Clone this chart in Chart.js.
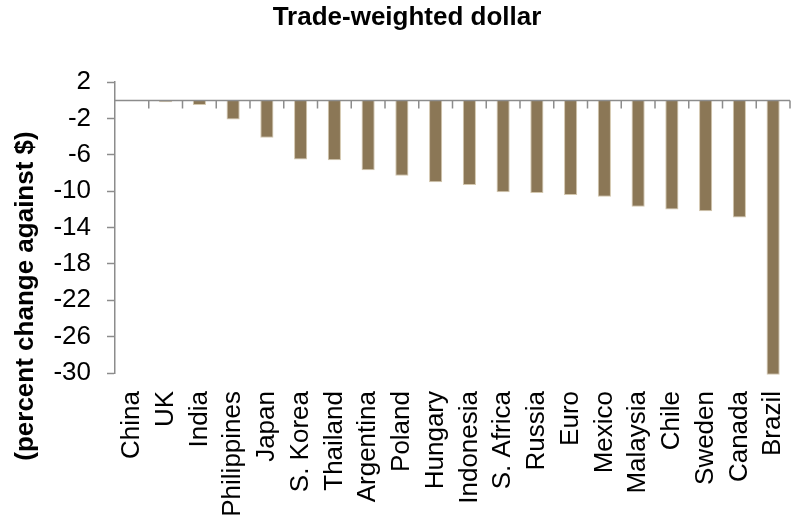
<!DOCTYPE html>
<html>
<head>
<meta charset="utf-8">
<script src="https://cdn.jsdelivr.net/npm/chart.js@4/dist/chart.umd.min.js"></script>
<style>
  html, body { margin: 0; padding: 0; background: #fff; }
  #wrap { width: 792px; height: 520px; position: relative; }
</style>
</head>
<body>
<div id="wrap"><canvas id="c" width="792" height="520"></canvas></div>
<script>
const categories = ["China","UK","India","Philippines","Japan","S. Korea","Thailand","Argentina","Poland","Hungary","Indonesia","S. Africa","Russia","Euro","Mexico","Malaysia","Chile","Sweden","Canada","Brazil"];
const changeAgainstDollar = [0, -0.2, -0.5, -2.1, -4.1, -6.5, -6.6, -7.7, -8.3, -9.0, -9.3, -10.1, -10.2, -10.4, -10.6, -11.7, -12.0, -12.2, -12.9, -30.2];
const yTickValues = [2, -2, -6, -10, -14, -18, -22, -26, -30];
const chartTitle = "Trade-weighted dollar";
const yAxisTitle = "(percent change against $)";

const FONT = "'Liberation Sans', Arial, Helvetica, sans-serif";
const AXIS_GRAY = "#8c8c8c";

const axisDecor = {
  id: 'axisDecor',
  afterDatasetsDraw(chart) {
    const xs = chart.scales.x, ys = chart.scales.y, ctx = chart.ctx;
    const y0 = ys.getPixelForValue(0);
    const half = (xs.getPixelForValue(1) - xs.getPixelForValue(0)) / 2;
    ctx.save();
    ctx.strokeStyle = AXIS_GRAY;
    ctx.lineWidth = 1.5;
    ctx.beginPath();
    ctx.moveTo(chart.chartArea.left, y0);
    ctx.lineTo(chart.chartArea.right, y0);
    for (let i = 0; i < categories.length; i++) {
      const x = xs.getPixelForValue(i) + half;
      ctx.moveTo(x, y0);
      ctx.lineTo(x, y0 + 8);
    }
    ctx.stroke();
    ctx.restore();
  },
  afterDraw(chart) {
    const ctx = chart.ctx;
    ctx.save();
    ctx.translate(26, 296);
    ctx.rotate(-Math.PI / 2);
    ctx.font = "bold 26px " + FONT;
    ctx.fillStyle = "#000";
    ctx.textAlign = "center";
    ctx.textBaseline = "middle";
    ctx.fillText(yAxisTitle, 0, 0);
    ctx.restore();
  }
};

new Chart(document.getElementById('c'), {
  type: 'bar',
  data: {
    labels: categories,
    datasets: [{
      data: changeAgainstDollar,
      backgroundColor: '#8b7756',
      borderColor: '#d3c7ae',
      borderWidth: 1,
      barPercentage: 0.39,
      categoryPercentage: 1.0,
      clip: false
    }]
  },
  options: {
    responsive: false,
    animation: false,
    layout: { padding: { left: 24, right: 2, top: 0, bottom: 3 } },
    plugins: {
      legend: { display: false },
      tooltip: { enabled: false },
      title: {
        display: true,
        text: chartTitle,
        color: '#000',
        font: { family: FONT, size: 26, weight: 'bold' },
        padding: { top: 2, bottom: 49 }
      }
    },
    scales: {
      x: {
        offset: true,
        border: { display: false },
        grid: { display: false, drawTicks: false },
        afterFit(scale) { scale.paddingLeft = 0; scale.paddingRight = 0; scale.height = 144; },
        ticks: {
          color: '#000',
          font: { family: FONT, size: 26 },
          minRotation: 90,
          maxRotation: 90,
          autoSkip: false,
          padding: 18
        }
      },
      y: {
        min: -30,
        max: 2,
        afterFit(scale) { scale.width = 91; },
        afterBuildTicks(scale) { scale.ticks = yTickValues.map(v => ({ value: v })); },
        border: { display: true, color: AXIS_GRAY, width: 1.5 },
        grid: {
          drawOnChartArea: false,
          drawTicks: true,
          tickLength: 8,
          tickColor: AXIS_GRAY,
          tickWidth: 1.5
        },
        ticks: {
          color: '#000',
          font: { family: FONT, size: 26 },
          padding: 16
        }
      }
    }
  },
  plugins: [axisDecor]
});
</script>
</body>
</html>
